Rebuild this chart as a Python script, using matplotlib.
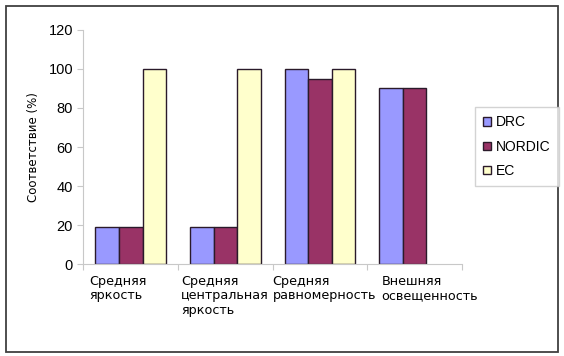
import numpy as np
import matplotlib.pyplot as plt
from matplotlib.patches import Rectangle

categories = ["Средняя\nяркость", "Средняя\nцентральная\nяркость",
              "Средняя\nравномерность", "Внешняя\nосвещенность"]
series = ["DRC", "NORDIC", "EC"]
drc = [19, 19, 100, 90]
nordic = [19, 19, 95, 90]
ec = [100, 100, 100, np.nan]
colors = ["#9999FF", "#993366", "#FFFFCC"]
# horizontal shift of each wrapped label from its category boundary
label_shift = [0.06, 0.03, 0.0, 0.15]

fig = plt.figure(figsize=(5.64, 3.56), dpi=100)
fig.patches.append(Rectangle((0.011, 0.011), 0.978, 0.972, transform=fig.transFigure,
                             fill=False, edgecolor="#404040", lw=1.3))
ax = fig.add_axes([0.148, 0.258, 0.671, 0.658])

x = np.arange(len(categories)) + 0.5
w = 0.25
handles = []
for k, (name, vals, c) in enumerate(zip(series, [drc, nordic, ec], colors)):
    vals = np.array(vals, dtype=float)
    m = ~np.isnan(vals)
    b = ax.bar(x[m] + (k - 1) * w, vals[m], width=w, color=c, edgecolor="#2a1a2a",
               lw=1.0, label=name)
    handles.append(b)

ax.set_xlim(0, 4)
ax.set_ylim(0, 120)
ax.set_yticks(range(0, 121, 20))
ax.set_xticks(range(0, 5))
ax.set_xticklabels([])
for s in ["top", "right"]:
    ax.spines[s].set_visible(False)
for s in ["left", "bottom"]:
    ax.spines[s].set_color("#c8c8c8")
ax.tick_params(axis="both", colors="#c8c8c8", length=4)
ax.tick_params(axis="y", labelcolor="black", labelsize=10.5)
for lab in ax.get_yticklabels():
    lab.set_family("Liberation Sans")

for i, cat in enumerate(categories):
    ax.text(i + label_shift[i], -0.045, cat, transform=ax.get_xaxis_transform(),
            ha="left", va="top", fontsize=9.2, family="DejaVu Sans",
            linespacing=1.15)

ax.set_ylabel("Соответствие (%)", fontsize=8.5, labelpad=6)

leg = fig.legend(handles=handles, loc="center left", bbox_to_anchor=(0.842, 0.588),
                 frameon=True, fancybox=False, edgecolor="#c8c8c8", handlelength=0.55,
                 handleheight=0.55, handletextpad=0.35, labelspacing=0.75,
                 borderpad=0.6, borderaxespad=0,
                 prop={"family": "Liberation Sans", "size": 10})

fig.savefig("out.png", dpi=100)
